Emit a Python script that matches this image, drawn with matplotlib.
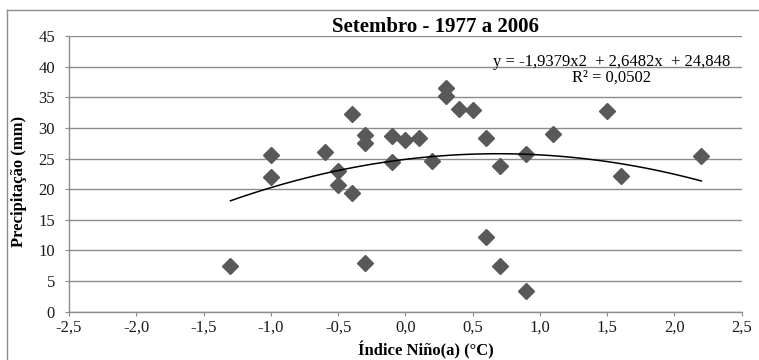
import numpy as np
import matplotlib
matplotlib.use("Agg")
import matplotlib.pyplot as plt
from matplotlib.lines import Line2D

# Niño index (°C) and September rainfall (mm), 1977-2006
nino = [-1.3, -1.0, -1.0, -0.6, -0.5, -0.5, -0.4, -0.4, -0.3, -0.3,
        -0.3, -0.1, -0.1, 0.0, 0.1, 0.2, 0.3, 0.3, 0.4, 0.5,
        0.6, 0.6, 0.7, 0.7, 0.9, 0.9, 1.1, 1.5, 1.6, 2.2]
precip = [7.4, 25.6, 22.0, 26.1, 22.9, 20.6, 19.3, 32.2, 28.8, 27.6,
          8.0, 28.7, 24.5, 28.1, 28.3, 24.6, 36.5, 35.2, 33.1, 33.0,
          28.3, 12.2, 23.8, 7.4, 25.7, 3.4, 29.0, 32.7, 22.2, 25.4]

xticks = [-2.5, -2.0, -1.5, -1.0, -0.5, 0.0, 0.5, 1.0, 1.5, 2.0, 2.5]
yticks = [0, 5, 10, 15, 20, 25, 30, 35, 40, 45]

title = "Setembro - 1977 a 2006"
eq_text = "y = -1,9379x2  + 2,6482x  + 24,848"
r2_text = "R² = 0,0502"

plt.rcParams['font.family'] = ['Liberation Serif', 'DejaVu Serif']

W, H = 759, 360
fig = plt.figure(figsize=(W / 100, H / 100), dpi=100)
ax = fig.add_axes([69 / W, 1 - 311.7 / H, (741.7 - 69) / W, (311.7 - 36) / H])

grey = '#8c8c8c'
ax.set_xlim(-2.5, 2.5)
ax.set_ylim(0, 45)
ax.set_xticks(xticks)
ax.set_yticks(yticks)
ax.set_xticklabels([f"{v:.1f}".replace('.', ',') for v in xticks])
ax.set_yticklabels([str(v) for v in yticks])
ax.grid(axis='y', color=grey, lw=1)
ax.set_axisbelow(True)
for s in ['top', 'right']:
    ax.spines[s].set_visible(False)
for s in ['left', 'bottom']:
    ax.spines[s].set_color(grey)
    ax.spines[s].set_linewidth(1)
ax.tick_params(direction='out', length=3, color=grey, labelsize=12,
               labelcolor='#1a1a1a')
ax.tick_params(axis='x', pad=2.5)
ax.tick_params(axis='y', pad=7)

ax.plot(nino, precip, ls='none', marker='D', ms=8, color='#595959', zorder=3)

# quadratic trend line
coef = np.polyfit(nino, precip, 2)
xs = np.linspace(min(nino), max(nino), 60)
ax.plot(xs, np.polyval(coef, xs), color='black', lw=1.1, zorder=4)

fig.text(436 / W, 1 - 32 / H, title, ha='center', va='baseline',
         fontsize=15, fontweight='bold')
fig.text(612 / W, 1 - 66 / H, eq_text, ha='center', va='baseline', fontsize=12)
fig.text(612 / W, 1 - 82 / H, r2_text, ha='center', va='baseline', fontsize=12)
fig.text(19 / W, 1 - 181 / H, "Precipitação (mm)", rotation=90, ha='center',
         va='center', fontsize=12, fontweight='bold')
fig.text(426 / W, 1 - 350 / H, "Índice Niño(a) (°C)", ha='center', va='center',
         fontsize=12, fontweight='bold')

# chart area border (top and left edges visible in crop)
fig.add_artist(Line2D([7 / W, 1], [1 - 10 / H] * 2, color=grey, lw=1,
                      transform=fig.transFigure))
fig.add_artist(Line2D([7 / W] * 2, [0, 1 - 10 / H], color=grey, lw=1,
                      transform=fig.transFigure))

fig.savefig('out.png', dpi=100)
